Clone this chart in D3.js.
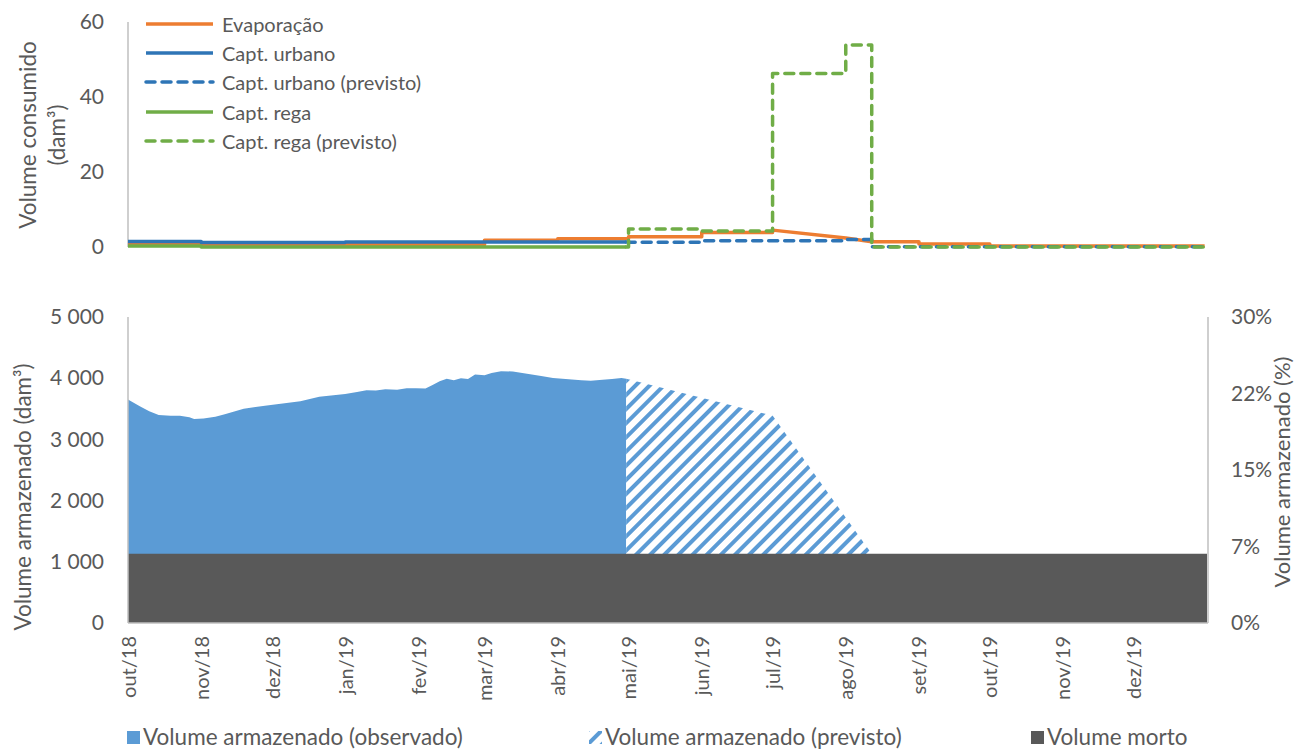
<!DOCTYPE html>
<html>
<head>
<meta charset="utf-8">
<script src="https://cdn.jsdelivr.net/npm/d3@7"></script>
<style>
  html, body { margin: 0; padding: 0; background: #fff; }
  svg { display: block; font-family: Lato, "Open Sans", sans-serif; }
</style>
</head>
<body>
<svg id="chart" width="1295" height="751"></svg>
<script>
// ---- Consumption (dam³), piecewise series: [date, value]
const evaporacao = [
  ["2018-10-01", 0.8], ["2018-11-01", 0.8], ["2018-11-01", 0.6], ["2019-03-01", 0.6],
  ["2019-03-01", 1.8], ["2019-04-01", 1.8], ["2019-04-01", 2.2], ["2019-05-01", 2.2],
  ["2019-05-01", 2.75], ["2019-06-01", 2.75], ["2019-06-01", 3.9], ["2019-07-01", 3.9],
  ["2019-07-01", 4.5], ["2019-08-01", 2.4], ["2019-08-12", 1.4], ["2019-09-01", 1.4],
  ["2019-09-01", 0.8], ["2019-10-01", 0.8], ["2019-10-01", 0.3], ["2019-12-31", 0.3]
];
const captUrbano = [
  ["2018-10-01", 1.45], ["2018-11-01", 1.45], ["2018-11-01", 1.2], ["2019-01-01", 1.2],
  ["2019-01-01", 1.35], ["2019-04-30", 1.35]
];
const captUrbanoPrev = [
  ["2019-04-30", 1.35], ["2019-05-01", 1.3], ["2019-06-01", 1.3], ["2019-06-01", 1.7],
  ["2019-08-01", 1.7], ["2019-08-01", 2.0], ["2019-08-12", 2.0], ["2019-08-12", 0.1],
  ["2019-12-31", 0.1]
];
const captRega = [
  ["2018-10-01", 0.25], ["2018-11-01", 0.25], ["2018-11-01", 0.0], ["2019-04-30", 0.0]
];
const captRegaPrev = [
  ["2019-04-30", 0.0], ["2019-05-01", 0.0], ["2019-05-01", 4.8], ["2019-06-01", 4.8],
  ["2019-06-01", 4.3], ["2019-07-01", 4.3], ["2019-07-01", 46.3], ["2019-08-01", 46.3],
  ["2019-08-01", 53.9], ["2019-08-12", 53.9], ["2019-08-12", 0.0], ["2019-12-31", 0.0]
];

// ---- Stored volume (dam³)
const obsDates = [
  "2018-10-01","2018-10-06","2018-10-10","2018-10-14","2018-10-19","2018-10-23","2018-10-27","2018-10-29",
  "2018-11-02","2018-11-07","2018-11-11","2018-11-15","2018-11-19","2018-11-24","2018-11-28",
  "2018-12-03","2018-12-08","2018-12-13","2018-12-17","2018-12-21","2018-12-27",
  "2019-01-01","2019-01-06","2019-01-10","2019-01-14","2019-01-18","2019-01-23","2019-01-27","2019-01-31",
  "2019-02-04","2019-02-07","2019-02-10","2019-02-13","2019-02-16","2019-02-19","2019-02-22","2019-02-25",
  "2019-03-01","2019-03-04","2019-03-08","2019-03-13","2019-03-17","2019-03-21","2019-03-25","2019-03-30",
  "2019-04-03","2019-04-07","2019-04-11","2019-04-15","2019-04-20","2019-04-24","2019-04-28","2019-04-30"
];
const obsValues = [
  3650, 3540, 3460, 3400, 3385, 3385, 3360, 3335,
  3340, 3370, 3410, 3455, 3500, 3530, 3550,
  3575, 3600, 3625, 3660, 3695, 3720,
  3740, 3775, 3805, 3800, 3820, 3810, 3835, 3835,
  3830, 3890, 3950, 3990, 3965, 4000, 3985, 4060,
  4050, 4085, 4115, 4110, 4085, 4060, 4035, 4005,
  3990, 3980, 3965, 3960, 3975, 3985, 4005, 3990
];
const prevDates = ["2019-04-30", "2019-07-01", "2019-08-12"];
const prevValues = [3990, 3390, 1130];
const mortoDates = ["2018-10-01", "2020-01-01"];
const mortoValues = [1130, 1130];

// ---- Axis labels
const monthLabels = ["out/18","nov/18","dez/18","jan/19","fev/19","mar/19","abr/19","mai/19",
                     "jun/19","jul/19","ago/19","set/19","out/19","nov/19","dez/19"];
const topTicks = [0, 20, 40, 60];
const volTicks = [0, 1000, 2000, 3000, 4000, 5000];
const volTickLabels = ["0", "1 000", "2 000", "3 000", "4 000", "5 000"];
const pctTickLabels = ["0%", "7%", "15%", "22%", "30%"];

const TEXT = "#595959", AXIS = "#BFBFBF";
const ORANGE = "#ED7D31", BLUE_LINE = "#2E75B6", GREEN = "#70AD47";
const BLUE_AREA = "#5B9BD5", MORTO = "#595959";

const parse = d3.utcParse("%Y-%m-%d");
const svg = d3.select("#chart");

const x = d3.scaleUtc()
  .domain([parse("2018-10-01"), parse("2020-01-01")])
  .range([128, 1207]);
const yTop = d3.scaleLinear().domain([0, 60]).range([247, 22]);
const yVol = d3.scaleLinear().domain([0, 5000]).range([623, 317]);
const yPct = d3.scaleLinear().domain([0, 4]).range([623, 317]);

// hatch for forecast volume
const defs = svg.append("defs");
const pat = defs.append("pattern")
  .attr("id", "hatch").attr("patternUnits", "userSpaceOnUse")
  .attr("width", 10).attr("height", 10)
  .attr("patternTransform", "rotate(45)");
pat.append("rect").attr("width", 10).attr("height", 10).attr("fill", "#fff");
pat.append("rect").attr("x", 0).attr("width", 4).attr("height", 10).attr("fill", BLUE_AREA);

// ================= Upper panel =================
const gTop = svg.append("g");
gTop.append("line").attr("x1", 128).attr("x2", 128).attr("y1", yTop(60)).attr("y2", yTop(0))
  .attr("stroke", AXIS).attr("stroke-width", 1.5);

const yAxisTop = d3.axisLeft(yTop).tickValues(topTicks).tickSize(0).tickPadding(24);
gTop.append("g").attr("transform", "translate(128,0)").call(yAxisTop)
  .call(g => g.select(".domain").remove())
  .selectAll("text").attr("fill", TEXT).style("font-size", "21px").style("font-family", "Lato");

gTop.append("text")
  .attr("transform", "translate(27,135) rotate(-90)")
  .attr("text-anchor", "middle").attr("dominant-baseline", "central")
  .attr("fill", TEXT).style("font-size", "22.5px").text("Volume consumido");
gTop.append("text")
  .attr("transform", "translate(56,135) rotate(-90)")
  .attr("text-anchor", "middle").attr("dominant-baseline", "central")
  .attr("fill", TEXT).style("font-size", "22.5px")
  .text("(dam³)");

const lineTop = d3.line().x(d => x(parse(d[0]))).y(d => yTop(d[1]));
const seriesTop = [
  { data: evaporacao, color: ORANGE, dash: null, name: "Evaporação" },
  { data: captUrbano, color: BLUE_LINE, dash: null, name: "Capt. urbano" },
  { data: captUrbanoPrev, color: BLUE_LINE, dash: "9,7", name: "Capt. urbano (previsto)" },
  { data: captRega, color: GREEN, dash: null, name: "Capt. rega" },
  { data: captRegaPrev, color: GREEN, dash: "9,7", name: "Capt. rega (previsto)" }
];
seriesTop.forEach(s => {
  gTop.append("path").attr("d", lineTop(s.data))
    .attr("fill", "none").attr("stroke", s.color).attr("stroke-width", 3.5)
    .attr("stroke-linejoin", "round")
    .attr("stroke-linecap", s.dash ? "round" : "butt")
    .attr("stroke-dasharray", s.dash);
});

// legend (upper panel)
const legTop = gTop.append("g");
const legRows = [24, 53, 82, 112, 141];
seriesTop.forEach((s, i) => {
  legTop.append("line").attr("x1", 146).attr("x2", 213).attr("y1", legRows[i]).attr("y2", legRows[i])
    .attr("stroke", s.color).attr("stroke-width", 3.5)
    .attr("stroke-linecap", s.dash ? "round" : "butt")
    .attr("stroke-dasharray", s.dash);
  legTop.append("text").attr("x", 222).attr("y", legRows[i]).attr("dominant-baseline", "central")
    .attr("fill", TEXT).style("font-size", "20px").text(s.name);
});

// ================= Lower panel =================
const gBot = svg.append("g");
const obs = obsDates.map((d, i) => ({ date: parse(d), v: obsValues[i] }));
const prev = prevDates.map((d, i) => ({ date: parse(d), v: prevValues[i] }));
const morto = mortoDates.map((d, i) => ({ date: parse(d), v: mortoValues[i] }));

const area = d3.area().x(d => x(d.date)).y0(yVol(0)).y1(d => yVol(d.v));
gBot.append("path").attr("d", area(obs)).attr("fill", BLUE_AREA);
gBot.append("path").attr("d", area(prev)).attr("fill", "url(#hatch)");
gBot.append("path").attr("d", area(morto)).attr("fill", MORTO);

// axis lines
gBot.append("line").attr("x1", 128).attr("x2", 128).attr("y1", yVol(5000)).attr("y2", yVol(0))
  .attr("stroke", AXIS).attr("stroke-width", 1.5);
gBot.append("line").attr("x1", 1208).attr("x2", 1208).attr("y1", yVol(5000)).attr("y2", yVol(0))
  .attr("stroke", AXIS).attr("stroke-width", 1.5);
gBot.append("line").attr("x1", 128).attr("x2", 1208).attr("y1", yVol(0)).attr("y2", yVol(0))
  .attr("stroke", AXIS).attr("stroke-width", 1.5);

const yAxisVol = d3.axisLeft(yVol).tickValues(volTicks).tickSize(0).tickPadding(24)
  .tickFormat((d, i) => volTickLabels[i]);
gBot.append("g").attr("transform", "translate(128,0)").call(yAxisVol)
  .call(g => g.select(".domain").remove())
  .selectAll("text").attr("fill", TEXT).style("font-size", "21px").style("font-family", "Lato");

const yAxisPct = d3.axisRight(yPct).tickValues([0, 1, 2, 3, 4]).tickSize(0).tickPadding(23)
  .tickFormat((d, i) => pctTickLabels[i]);
gBot.append("g").attr("transform", "translate(1208,0)").call(yAxisPct)
  .call(g => g.select(".domain").remove())
  .selectAll("text").attr("fill", TEXT).style("font-size", "21px").style("font-family", "Lato");

gBot.append("text")
  .attr("transform", "translate(22,497) rotate(-90)")
  .attr("text-anchor", "middle").attr("dominant-baseline", "central")
  .attr("fill", TEXT).style("font-size", "22.5px").text("Volume armazenado (dam³)");
gBot.append("text")
  .attr("transform", "translate(1281,472) rotate(-90)")
  .attr("text-anchor", "middle").attr("dominant-baseline", "central")
  .attr("fill", TEXT).style("font-size", "22px").text("Volume armazenado (%)");

// month labels
const monthStarts = d3.utcMonths(parse("2018-10-01"), parse("2020-01-01"));
const xAxis = d3.axisBottom(x).tickValues(monthStarts).tickSize(0)
  .tickFormat((d, i) => monthLabels[i]);
const gx = gBot.append("g").attr("transform", "translate(0,623)").call(xAxis);
gx.select(".domain").remove();
gx.selectAll("text")
  .attr("transform", "rotate(-90)")
  .attr("x", -13).attr("y", 0).attr("dy", "0.35em")
  .attr("text-anchor", "end")
  .attr("fill", TEXT).style("font-size", "20px").style("font-family", "Lato");

// legend (lower panel)
const legBot = svg.append("g");
const legItems = [
  { x: 127, fill: BLUE_AREA, label: "Volume armazenado (observado)" },
  { x: 589, fill: "url(#hatch)", label: "Volume armazenado (previsto)" },
  { x: 1031, fill: MORTO, label: "Volume morto" }
];
legItems.forEach(it => {
  legBot.append("rect").attr("x", it.x).attr("y", 731).attr("width", 13).attr("height", 13)
    .attr("fill", it.fill);
  legBot.append("text").attr("x", it.x + 16).attr("y", 745)
    .attr("fill", TEXT).style("font-size", "22.5px").text(it.label);
});
</script>
</body>
</html>
